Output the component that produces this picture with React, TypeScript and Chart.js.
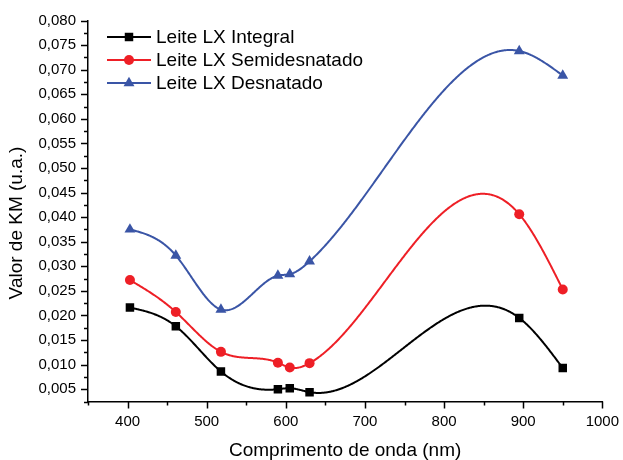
import { useEffect, useRef } from 'react';
import { Chart, registerables } from 'chart.js';

Chart.register(...registerables);

// ---- data ----
const wavelengths = [403, 461, 518, 590, 605, 630, 895, 950];
const integral = [0.0216, 0.0178, 0.0086, 0.0050, 0.0052, 0.0044, 0.0195, 0.0093];
const semidesnatado = [0.0272, 0.0207, 0.0126, 0.0104, 0.0094, 0.0103, 0.0406, 0.0253];
const desnatado = [0.0375, 0.0322, 0.0212, 0.0281, 0.0284, 0.0310, 0.0738, 0.0688];
const seriesLabels = ['Leite LX Integral', 'Leite LX Semidesnatado', 'Leite LX Desnatado'];
const xTickValues = [400, 500, 600, 700, 800, 900, 1000];
const yTickValues = [0.005, 0.01, 0.015, 0.02, 0.025, 0.03, 0.035, 0.04, 0.045, 0.05, 0.055, 0.06, 0.065, 0.07, 0.075, 0.08];
const xTitle = 'Comprimento de onda (nm)';
const yTitle = 'Valor de KM (u.a.)';

const FONT = "'Liberation Sans', Arial, sans-serif";
const colors = ['#000000', '#ee1f26', '#3a55a6'];
const pointStyles = ['rect', 'circle', 'triangle'];
const pointRadii = [6, 5, 6.3];

function naturalSpline(xs: number[], ys: number[]) {
  const n = xs.length;
  const h: number[] = [];
  for (let i = 0; i < n - 1; i++) h.push(xs[i + 1] - xs[i]);
  const M = new Array(n).fill(0);
  if (n > 2) {
    const m = n - 2;
    const a = new Array(m).fill(0), b = new Array(m).fill(0), c = new Array(m).fill(0), d = new Array(m).fill(0);
    for (let k = 0; k < m; k++) {
      const i = k + 1;
      a[k] = h[i - 1];
      b[k] = 2 * (h[i - 1] + h[i]);
      c[k] = h[i];
      d[k] = 6 * ((ys[i + 1] - ys[i]) / h[i] - (ys[i] - ys[i - 1]) / h[i - 1]);
    }
    for (let k = 1; k < m; k++) {
      const w = a[k] / b[k - 1];
      b[k] -= w * c[k - 1];
      d[k] -= w * d[k - 1];
    }
    const sol = new Array(m).fill(0);
    sol[m - 1] = d[m - 1] / b[m - 1];
    for (let k = m - 2; k >= 0; k--) sol[k] = (d[k] - c[k] * sol[k + 1]) / b[k];
    for (let k = 0; k < m; k++) M[k + 1] = sol[k];
  }
  return (x: number) => {
    let i = 0;
    while (i < n - 2 && x > xs[i + 1]) i++;
    const hi = h[i];
    const t = x - xs[i];
    const bi = (ys[i + 1] - ys[i]) / hi - (hi * (2 * M[i] + M[i + 1])) / 6;
    return ys[i] + bi * t + (M[i] / 2) * t * t + ((M[i + 1] - M[i]) / (6 * hi)) * t * t * t;
  };
}

function drawMarker(ctx: CanvasRenderingContext2D, style: string, x: number, y: number, r: number, color: string) {
  ctx.save();
  ctx.fillStyle = color;
  ctx.beginPath();
  if (style === 'rect') {
    const s = Math.SQRT1_2 * r;
    ctx.rect(x - s, y - s, 2 * s, 2 * s);
  } else if (style === 'circle') {
    ctx.arc(x, y, r, 0, Math.PI * 2);
  } else {
    ctx.moveTo(x, y - r);
    ctx.lineTo(x + Math.sin((2 * Math.PI) / 3) * r, y + 0.5 * r);
    ctx.lineTo(x - Math.sin((2 * Math.PI) / 3) * r, y + 0.5 * r);
    ctx.closePath();
  }
  ctx.fill();
  ctx.restore();
}

const splinePlugin = {
  id: 'splineLines',
  beforeDatasetsDraw(chart: any) {
    const { ctx, chartArea, scales } = chart;
    ctx.save();
    ctx.beginPath();
    ctx.rect(chartArea.left, chartArea.top, chartArea.right - chartArea.left, chartArea.bottom - chartArea.top);
    ctx.clip();
    chart.data.datasets.forEach((ds: any) => {
      const xs = ds.data.map((p: any) => p.x);
      const ys = ds.data.map((p: any) => p.y);
      const f = naturalSpline(xs, ys);
      ctx.beginPath();
      const steps = 600;
      for (let s = 0; s <= steps; s++) {
        const xv = xs[0] + ((xs[xs.length - 1] - xs[0]) * s) / steps;
        const px = scales.x.getPixelForValue(xv);
        const py = scales.y.getPixelForValue(f(xv));
        if (s === 0) ctx.moveTo(px, py);
        else ctx.lineTo(px, py);
      }
      ctx.strokeStyle = ds.borderColor;
      ctx.lineWidth = 2;
      ctx.lineJoin = 'round';
      ctx.stroke();
    });
    ctx.restore();
  },
};

const ticksPlugin = {
  id: 'axisTicks',
  afterDraw(chart: any) {
    const { ctx, chartArea, scales } = chart;
    ctx.save();
    ctx.strokeStyle = '#000';
    ctx.lineWidth = 1.5;
    const xs = scales.x;
    for (let v = xs.min; v <= xs.max + 1e-9; v += 50) {
      const major = xTickValues.includes(Math.round(v));
      const px = Math.round(xs.getPixelForValue(v)) + 0.5;
      ctx.beginPath();
      ctx.moveTo(px, chartArea.bottom);
      ctx.lineTo(px, chartArea.bottom + (major ? 7 : 4));
      ctx.stroke();
    }
    const ys = scales.y;
    for (let k = 1; k <= 32; k++) {
      const v = k * 0.0025;
      const major = k % 2 === 0;
      const py = Math.round(ys.getPixelForValue(v)) + 0.5;
      ctx.beginPath();
      ctx.moveTo(chartArea.left, py);
      ctx.lineTo(chartArea.left - (major ? 7 : 4), py);
      ctx.stroke();
    }
    // y axis title
    ctx.save();
    ctx.translate(16.5, 223);
    ctx.rotate(-Math.PI / 2);
    ctx.font = `19px ${FONT}`;
    ctx.fillStyle = '#000';
    ctx.textAlign = 'center';
    ctx.textBaseline = 'middle';
    ctx.fillText(yTitle, 0, 0);
    ctx.restore();
    ctx.restore();
  },
};

const legendPlugin = {
  id: 'customLegend',
  afterDraw(chart: any) {
    const { ctx } = chart;
    ctx.save();
    ctx.font = `19px ${FONT}`;
    ctx.textBaseline = 'middle';
    ctx.fillStyle = '#000';
    seriesLabels.forEach((label, i) => {
      const y = 37 + i * 23;
      ctx.strokeStyle = colors[i];
      ctx.lineWidth = 2;
      ctx.beginPath();
      ctx.moveTo(107, y);
      ctx.lineTo(151, y);
      ctx.stroke();
      drawMarker(ctx, pointStyles[i], 129, y, pointRadii[i], colors[i]);
      ctx.fillStyle = '#000';
      ctx.fillText(label, 156, y + 1);
    });
    ctx.restore();
  },
};

export default function App() {
  const canvasRef = useRef<HTMLCanvasElement | null>(null);

  useEffect(() => {
    document.body.style.margin = '0';
    const canvas = canvasRef.current;
    if (!canvas) return;
    const seriesValues = [integral, semidesnatado, desnatado];
    const chart = new Chart(canvas, {
      type: 'scatter',
      data: {
        datasets: seriesValues.map((vals, i) => ({
          label: seriesLabels[i],
          data: wavelengths.map((x, j) => ({ x, y: vals[j] })),
          borderColor: colors[i],
          backgroundColor: colors[i],
          pointStyle: pointStyles[i] as any,
          pointRadius: pointRadii[i],
          pointHoverRadius: pointRadii[i],
          pointBorderWidth: 0,
          showLine: false,
        })),
      },
      options: {
        animation: false,
        responsive: true,
        maintainAspectRatio: false,
        devicePixelRatio: 1,
        layout: { padding: { top: 20.5, right: 19, left: 0, bottom: 0 } },
        plugins: {
          legend: { display: false },
          tooltip: { enabled: false },
        },
        scales: {
          x: {
            type: 'linear',
            min: 350,
            max: 1000,
            afterFit: (scale: any) => {
              scale.height = 58.5;
            },
            afterBuildTicks: (scale: any) => {
              scale.ticks = xTickValues.map((v) => ({ value: v }));
            },
            grid: { display: false, drawTicks: true, tickLength: 7 },
            border: { display: true, color: '#000', width: 1.5 },
            ticks: {
              autoSkip: false,
              maxRotation: 0,
              padding: 4,
              color: '#000',
              font: { family: FONT, size: 15 },
              callback: (v: any) => String(v),
            },
            title: {
              display: true,
              text: xTitle,
              color: '#000',
              font: { family: FONT, size: 19, lineHeight: 1 },
              padding: { top: 0, bottom: 0 },
            },
          },
          y: {
            type: 'linear',
            min: 0.0025,
            max: 0.08,
            afterFit: (scale: any) => {
              scale.width = 88;
            },
            afterBuildTicks: (scale: any) => {
              scale.ticks = yTickValues.map((v) => ({ value: v }));
            },
            grid: { display: false, drawTicks: true, tickLength: 7 },
            border: { display: true, color: '#000', width: 1.5 },
            ticks: {
              autoSkip: false,
              padding: 5,
              color: '#000',
              font: { family: FONT, size: 15 },
              callback: (v: any) => Number(v).toFixed(3).replace('.', ','),
            },
            title: { display: false },
          },
        },
      },
      plugins: [splinePlugin, ticksPlugin, legendPlugin],
    });
    return () => chart.destroy();
  }, []);

  return (
    <div style={{ position: 'absolute', left: 0, top: 0, width: 623, height: 460 }}>
      <canvas ref={canvasRef} />
    </div>
  );
}
